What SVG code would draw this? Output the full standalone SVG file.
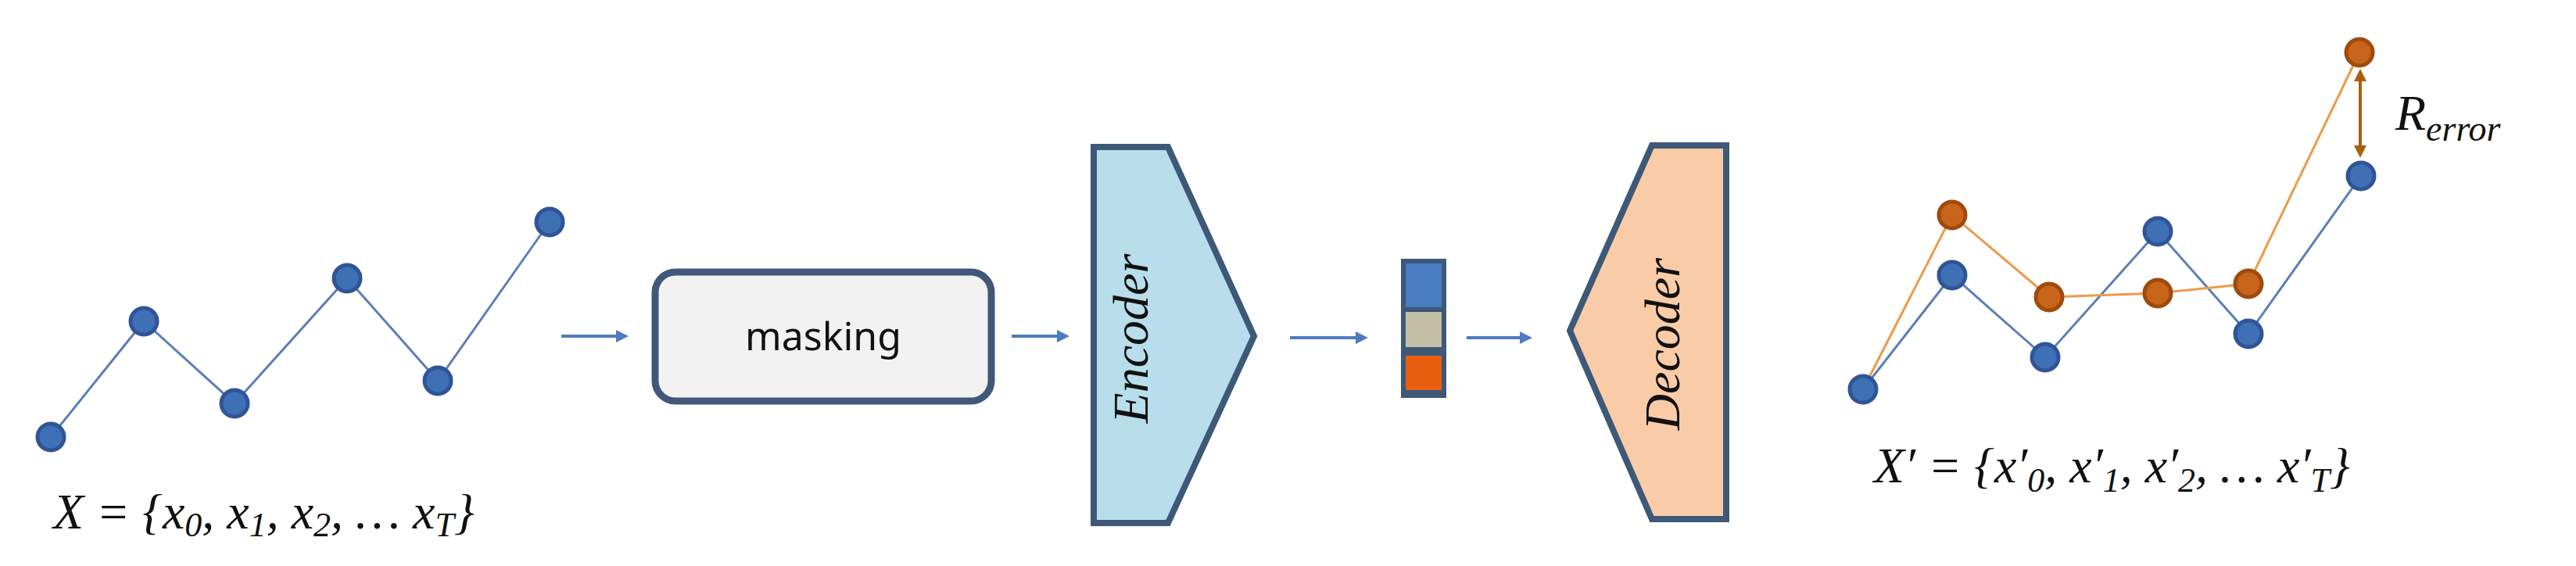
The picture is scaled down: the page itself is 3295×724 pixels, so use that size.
<svg xmlns="http://www.w3.org/2000/svg" width="3295" height="724" viewBox="0 0 3295 724">
<defs>
<style>
.bd{fill:#3F6FB5;stroke:#2F5597;stroke-width:5}
.od{fill:#C8651B;stroke:#A04A0C;stroke-width:5}
.bl{fill:none;stroke:#5B7FB8;stroke-width:3}
.ol{fill:none;stroke:#ED9A4A;stroke-width:3}
.m{font-family:"Liberation Serif",serif;font-style:italic;fill:#111}
.ar{stroke:#4F7BC0;stroke-width:4;fill:none}
</style>
<marker id="ah" markerWidth="4" markerHeight="4" refX="3" refY="2" orient="auto"><path d="M0,0 L4,2 L0,4 z" fill="#4F7BC0"/></marker>
<marker id="oh" markerWidth="4" markerHeight="4" refX="3" refY="2" orient="auto-start-reverse"><path d="M0,0 L4,2 L0,4 z" fill="#A8600F"/></marker>
</defs>
<rect width="3295" height="724" fill="#fff"/>
<g id="input">
<polyline class="bl" points="65,559 184,411 300,516 444,356 560,487 703,284"/>
<circle class="bd" cx="65" cy="559" r="17"/><circle class="bd" cx="184" cy="411" r="17"/><circle class="bd" cx="300" cy="516" r="17"/><circle class="bd" cx="444" cy="356" r="17"/><circle class="bd" cx="560" cy="487" r="17"/><circle class="bd" cx="703" cy="284" r="17"/>
<text class="m" x="68" y="676" font-size="64">X = {x<tspan font-size="44" dy="10">0</tspan><tspan dy="-10">, x</tspan><tspan font-size="44" dy="10">1</tspan><tspan dy="-10">, x</tspan><tspan font-size="44" dy="10">2</tspan><tspan dy="-10">, … x</tspan><tspan font-size="44" dy="10">T</tspan><tspan dy="-10">}</tspan></text>
</g>
<g id="connectors">
<line class="ar" x1="718" y1="430" x2="800" y2="430" marker-end="url(#ah)"/>
<line class="ar" x1="1294" y1="430" x2="1364" y2="430" marker-end="url(#ah)"/>
<line class="ar" x1="1650" y1="432" x2="1746" y2="432" marker-end="url(#ah)"/>
<line class="ar" x1="1876" y1="432" x2="1956" y2="432" marker-end="url(#ah)"/>
</g>
<g id="masking">
<rect x="838" y="348" width="430" height="165" rx="26" fill="#F2F2F2" stroke="#41587A" stroke-width="9"/>
<text x="1053" y="448" font-family="Noto Sans,sans-serif" font-size="50" text-anchor="middle" fill="#111">masking</text>
</g>
<g id="encoder">
<path d="M1399,188 L1494,188 L1604,430 L1494,669 L1399,669 Z" fill="#B7DEEA" stroke="#3E5878" stroke-width="8"/>
<text class="m" transform="translate(1468,433) rotate(-90)" font-size="64" text-anchor="middle">Encoder</text>
</g>
<g id="latent">
<rect x="1792" y="331" width="58" height="178" fill="#3E5878"/>
<rect x="1798" y="337" width="46" height="56" fill="#4A7CC4"/>
<rect x="1798" y="399" width="46" height="45" fill="#C4C0A5"/>
<rect x="1798" y="455" width="46" height="44" fill="#E8600F"/>
</g>
<g id="decoder">
<path d="M2208,186 L2113,186 L2008,423 L2113,664 L2208,664 Z" fill="#F9CBA7" stroke="#3E5878" stroke-width="8"/>
<text class="m" transform="translate(2148,440) rotate(-90)" font-size="64" text-anchor="middle">Decoder</text>
</g>
<g id="output">
<polyline class="bl" points="2383,498 2497,352 2616,457 2760,296 2876,427 3020,225"/>
<polyline class="ol" points="2383,498 2497,275 2621,380 2760,375 2876,363 3018,67"/>
<circle class="bd" cx="2383" cy="498" r="17"/><circle class="bd" cx="2497" cy="352" r="17"/><circle class="bd" cx="2616" cy="457" r="17"/><circle class="bd" cx="2760" cy="296" r="17"/><circle class="bd" cx="2876" cy="427" r="17"/><circle class="bd" cx="3020" cy="225" r="17"/>
<circle class="od" cx="2497" cy="275" r="17"/><circle class="od" cx="2621" cy="380" r="17"/><circle class="od" cx="2760" cy="375" r="17"/><circle class="od" cx="2876" cy="363" r="17"/><circle class="od" cx="3018" cy="67" r="17"/>
<line x1="3019" y1="92" x2="3019" y2="198" stroke="#A8600F" stroke-width="4" marker-start="url(#oh)" marker-end="url(#oh)"/>
<text class="m" x="3064" y="166" font-size="64">R<tspan font-size="46" dy="14">error</tspan></text>
<text class="m" x="2397" y="617" font-size="64">X′ = {x′<tspan font-size="44" dy="12">0</tspan><tspan dy="-12">, x′</tspan><tspan font-size="44" dy="12">1</tspan><tspan dy="-12">, x′</tspan><tspan font-size="44" dy="12">2</tspan><tspan dy="-12">, … x′</tspan><tspan font-size="44" dy="12">T</tspan><tspan dy="-12">}</tspan></text>
</g>
</svg>
